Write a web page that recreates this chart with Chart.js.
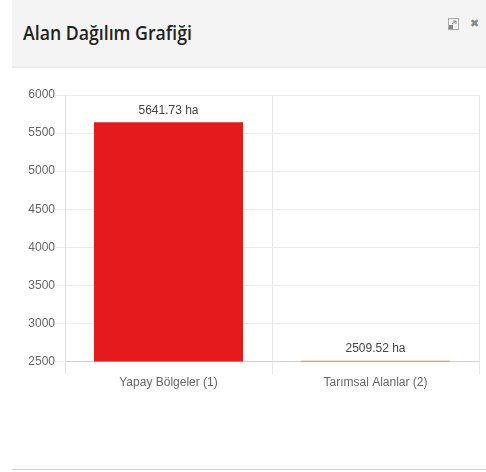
<!DOCTYPE html>
<html lang="tr">
<head>
<meta charset="utf-8">
<title>Alan Dağılım Grafiği</title>
<style>
    html, body { margin: 0; padding: 0; background: #fff; }
    #panel { position: absolute; left: 12px; top: 0; width: 474px; height: 469px; border-bottom: 1px solid #d4d4d4; }
    #head { position: absolute; left: 0; top: 0; width: 474px; height: 66px; background: #f4f4f4; border-bottom: 2px solid #ebebeb; }
    #head h3 { position: absolute; left: 11px; top: 19px; margin: 0; font: 600 20px "Open Sans", sans-serif; color: #222; white-space: nowrap; transform: scaleX(0.885); transform-origin: left center; }
    #expand { position: absolute; left: 436px; top: 18px; }
    #close { position: absolute; left: 458px; top: 17px; font: 700 11px "DejaVu Sans", sans-serif; color: #888; }
    #wrap { position: absolute; left: 0; top: 80px; width: 486px; height: 315px; }
</style>
</head>
<body>
<div id="panel">
    <div id="head">
        <h3>Alan Dağılım Grafiği</h3>
        <svg id="expand" width="11" height="12" viewBox="0 0 11 12">
            <rect x="0.5" y="0.5" width="10" height="11" fill="none" stroke="#aaa"/>
            <rect x="1" y="7" width="4" height="4" fill="#888"/>
            <path d="M4 6 L8 3 M5 3 H8 V6" fill="none" stroke="#888"/>
        </svg>
        <div id="close">✖</div>
    </div>
</div>
<div id="wrap"><canvas id="areaChart" width="486" height="315"></canvas></div>
<script src="https://cdn.jsdelivr.net/npm/chart.js@4"></script>
<script>
    const categories = ['Yapay Bölgeler (1)', 'Tarımsal Alanlar (2)'];
    const areaValues = [5641.73, 2509.52];
    const barColors = ['#e41a1c', '#e07b39'];
    const yTicks = [2500, 3000, 3500, 4000, 4500, 5000, 5500, 6000];

    // value text above each bar
    const barLabels = {
        id: 'barLabels',
        afterDatasetsDraw(chart) {
            const ctx = chart.ctx;
            ctx.save();
            ctx.font = '12px "Liberation Sans"';
            ctx.fillStyle = '#444';
            ctx.textAlign = 'center';
            ctx.textBaseline = 'bottom';
            chart.getDatasetMeta(0).data.forEach((bar, i) => {
                ctx.fillText(areaValues[i].toFixed(2) + ' ha', bar.x, bar.y - 6);
            });
            ctx.restore();
        }
    };

    new Chart(document.getElementById('areaChart').getContext('2d'), {
        type: 'bar',
        data: {
            labels: categories,
            datasets: [{
                data: areaValues,
                backgroundColor: barColors,
                borderWidth: 0,
                barPercentage: 0.9,
                categoryPercentage: 0.8
            }]
        },
        options: {
            responsive: false,
            animation: false,
            layout: { padding: { top: 15, right: 7, bottom: 0, left: 0 } },
            plugins: { legend: { display: false }, tooltip: { enabled: false } },
            scales: {
                x: {
                    afterFit(scale) { scale.height = 33.5; },
                    grid: { color: '#e6e6e6', tickLength: 13 },
                    border: { color: '#cfcfcf' },
                    ticks: { color: '#666', font: { family: 'Liberation Sans', size: 12 }, padding: 1 }
                },
                y: {
                    min: 2500,
                    max: 6000,
                    afterFit(scale) { scale.width = 65; },
                    afterBuildTicks(scale) { scale.ticks = yTicks.map(v => ({ value: v })); },
                    grid: { color: '#ececec', tickLength: 10 },
                    border: { color: '#e0e0e0' },
                    ticks: {
                        color: '#666',
                        font: { family: 'Liberation Sans', size: 12 },
                        padding: 0,
                        callback: v => String(v)
                    }
                }
            }
        },
        plugins: [barLabels]
    });
</script>
</body>
</html>
